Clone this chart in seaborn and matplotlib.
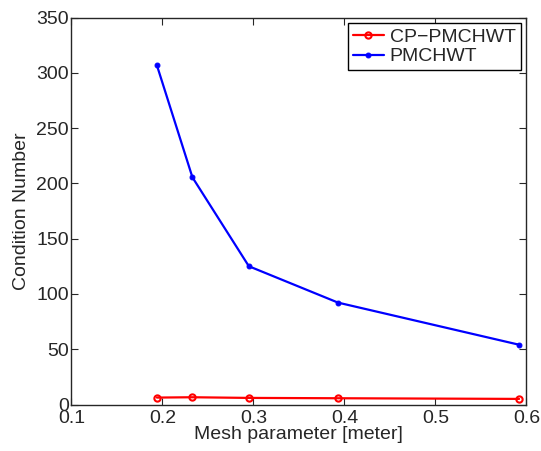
import pandas as pd
import matplotlib
matplotlib.use('Agg')
import matplotlib.pyplot as plt
import seaborn as sns

# values
mesh = [0.194, 0.233, 0.295, 0.393, 0.592]
cp_pmchwt = [6.3, 6.6, 6.0, 5.7, 5.1]
pmchwt = [306.7, 205.5, 125.1, 92.2, 54.1]

df = pd.DataFrame({'Mesh': mesh + mesh,
                   'Cond': cp_pmchwt + pmchwt,
                   'Method': ['CP-PMCHWT'] * 5 + ['PMCHWT'] * 5})

sns.set_style('ticks')
plt.rcParams['font.family'] = ['Liberation Sans', 'DejaVu Sans']
plt.rcParams['xtick.direction'] = 'in'
plt.rcParams['ytick.direction'] = 'in'

fig = plt.figure(figsize=(5.41, 4.51), dpi=100)
ax = fig.add_axes([0.132, 0.103, 0.841, 0.858])

sns.lineplot(data=df[df.Method == 'CP-PMCHWT'], x='Mesh', y='Cond', ax=ax,
             color='red', lw=1.6, marker='o', markersize=4.5, markerfacecolor='none',
             markeredgecolor='red', markeredgewidth=1.5, label='CP\u2212PMCHWT')
sns.lineplot(data=df[df.Method == 'PMCHWT'], x='Mesh', y='Cond', ax=ax,
             color='blue', lw=1.6, marker='o', markersize=3.5,
             markeredgecolor='blue', label='PMCHWT')

ax.set_xlim(0.1, 0.6)
ax.set_ylim(0, 350)
ax.set_xticks([0.1, 0.2, 0.3, 0.4, 0.5, 0.6])
ax.set_yticks(range(0, 351, 50))
ax.tick_params(labelsize=14, top=True, right=True, length=5, width=0.8)
ax.tick_params(axis='x', pad=4)
ax.tick_params(axis='y', pad=2)
for s in ax.spines.values():
    s.set_linewidth(1)
ax.set_xlabel('Mesh parameter [meter]', fontsize=14, labelpad=-1)
ax.set_ylabel('Condition Number', fontsize=14, labelpad=4)

leg = ax.legend(loc='upper right', fontsize=14, frameon=True, fancybox=False,
                edgecolor='black', framealpha=1, handlelength=1.6,
                borderaxespad=0.3, borderpad=0.25, labelspacing=0.1, handletextpad=0.3)
leg.get_frame().set_linewidth(1)

fig.savefig('out.png', dpi=100)
